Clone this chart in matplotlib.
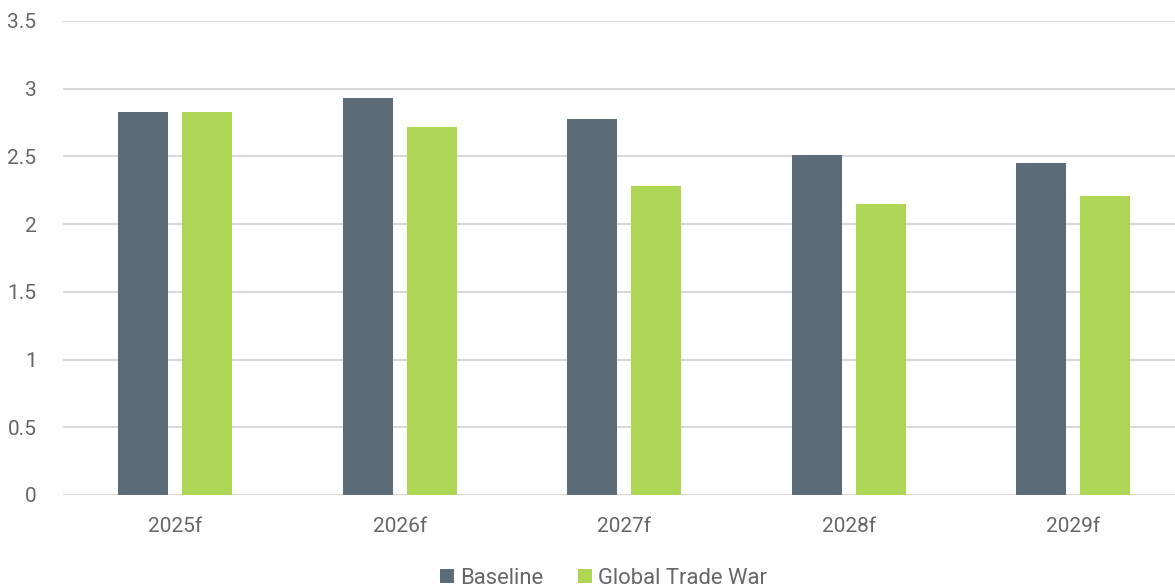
import numpy as np
import matplotlib.pyplot as plt

years = ['2025f', '2026f', '2027f', '2028f', '2029f']
baseline = [2.83, 2.93, 2.78, 2.51, 2.45]
trade_war = [2.83, 2.72, 2.28, 2.15, 2.21]

plt.rcParams['font.family'] = ['Roboto', 'DejaVu Sans']
txt = '#666666'

fig = plt.figure(figsize=(11.75, 5.88), dpi=100)
ax = fig.add_axes([63/1175, 1-495/588, 1-63/1175, (495-21)/588])

x = np.arange(len(years))
w = 0.223
off = 0.1425
ax.bar(x - off, baseline, w, color='#5b6b77', label='Baseline', zorder=3)
ax.bar(x + off, trade_war, w, color='#acd653', label='Global Trade War', zorder=3)

ax.set_ylim(0, 3.5)
ax.set_xlim(-0.5, -0.5 + (1175-63)/224.5)
ax.set_yticks(np.arange(0, 3.51, 0.5))
ax.set_yticklabels(['0', '0.5', '1', '1.5', '2', '2.5', '3', '3.5'])
ax.set_xticks(x)
ax.set_xticklabels(years)
ax.grid(axis='y', color='#d9d9d9', linewidth=1.5, zorder=0)
for s in ax.spines.values():
    s.set_visible(False)
ax.tick_params(axis='both', length=0, labelsize=15, colors=txt)
ax.tick_params(axis='y', pad=19)
ax.tick_params(axis='x', pad=16)

leg = fig.legend(loc='lower center', bbox_to_anchor=(0.5135, -0.035), ncol=2, frameon=False,
                 prop={'size': 15.8}, handlelength=0.65, handleheight=0.65,
                 handletextpad=0.25, columnspacing=1.6)
for t in leg.get_texts():
    t.set_color(txt)

fig.savefig('out.png', dpi=100)
